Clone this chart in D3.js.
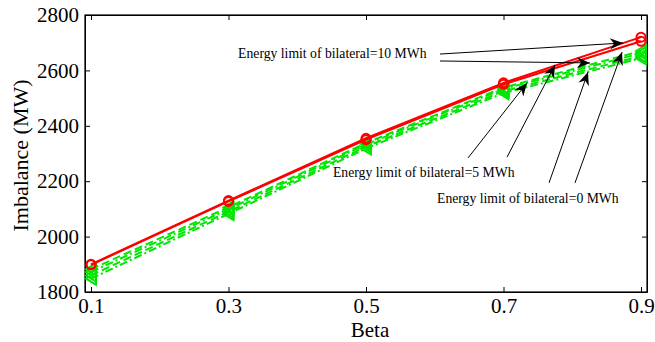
<!DOCTYPE html>
<html lang="en">
<head>
	<meta charset="utf-8">
	<title>Imbalance vs Beta</title>
	<script src="https://d3js.org/d3.v7.min.js"></script>
	<style type="text/css">
		body { margin: 0; background: #fff; }
		.axis path, .axis line { fill: none; stroke: black; stroke-width: 1; }
		.axis text { font-family: "Liberation Serif", serif; font-size: 21px; fill: black; }
		.label { font-family: "Liberation Serif", serif; font-size: 22px; fill: black; }
		.note { font-family: "Liberation Serif", serif; font-size: 13.7px; fill: black; }
	</style>
</head>
<body>
<script type="text/javascript">
// Data
var beta = [0.1, 0.3, 0.5, 0.7, 0.9];
var xTicks = [0.1, 0.3, 0.5, 0.7, 0.9];
var yTicks = [1800, 2000, 2200, 2400, 2600, 2800];

var red10a = [1900, 2130, 2355, 2555, 2720];
var red10b = [1898, 2127, 2350, 2550, 2705];
var green5a = [1882, 2106, 2338, 2538, 2670];
var green5b = [1872, 2099, 2333, 2533, 2662];
var green0a = [1860, 2090, 2325, 2525, 2652];
var green0b = [1848, 2082, 2318, 2518, 2644];

var series = [
	{values: red10a, color: "#ff0000", dash: null, marker: "circle"},
	{values: red10b, color: "#ff0000", dash: null, marker: "circle"},
	{values: green5a, color: "#00e600", dash: "8,4", marker: "tri"},
	{values: green5b, color: "#00e600", dash: "8,3,2,3", marker: "tri"},
	{values: green0a, color: "#00e600", dash: "8,4", marker: "tri"},
	{values: green0b, color: "#00e600", dash: "8,3,2,3", marker: "tri"}
];

// annotations in data units: label position and arrows [x0,y0,x1,y1]
var notes = [
	{text: "Energy limit of bilateral=10 MWh", at: [0.314, 2645],
	 arrows: [[0.6076, 2659, 0.8738, 2699], [0.6076, 2634, 0.8258, 2627]]},
	{text: "Energy limit of bilateral=5 MWh", at: [0.452, 2215],
	 arrows: [[0.6484, 2284, 0.7342, 2555], [0.7051, 2287, 0.7749, 2620]]},
	{text: "Energy limit of bilateral=0 MWh", at: [0.6033, 2121],
	 arrows: [[0.7662, 2194, 0.8229, 2594], [0.8040, 2194, 0.8724, 2666]]}
];

var margin = {top: 15, right: 8, bottom: 50, left: 85};
var outer_width = 655, outer_height = 342;
var w = outer_width - margin.left - margin.right;
var h = outer_height - margin.top - margin.bottom;

var svg = d3.select("body").append("svg")
	.attr("width", outer_width)
	.attr("height", outer_height);

var defs = svg.append("defs");
defs.append("marker")
	.attr("id", "head")
	.attr("markerUnits", "userSpaceOnUse")
	.attr("markerWidth", 16).attr("markerHeight", 16)
	.attr("viewBox", "-14 -8 16 16")
	.attr("refX", 0).attr("refY", 0)
	.attr("orient", "auto")
	.append("path")
	.attr("d", "M0,0 L-13,-5.5 L-9,0 L-13,5.5 Z")
	.attr("fill", "black");

var g = svg.append("g")
	.attr("transform", "translate(" + margin.left + "," + margin.top + ")");

var x = d3.scaleLinear().domain([0.0913, 0.9087]).range([0, w]);
var y = d3.scaleLinear().domain([1800, 2800]).range([h, 0]);

// axes with inward ticks on all four sides
g.append("g").attr("class", "axis")
	.attr("transform", "translate(0," + h + ")")
	.call(d3.axisBottom(x).tickValues(xTicks).tickSize(-5).tickSizeOuter(0).tickPadding(6).tickFormat(d3.format(".1f")));
g.append("g").attr("class", "axis")
	.call(d3.axisTop(x).tickValues(xTicks).tickSize(-5).tickSizeOuter(0).tickFormat(""));
g.append("g").attr("class", "axis")
	.call(d3.axisLeft(y).tickValues(yTicks).tickSize(-5).tickSizeOuter(0).tickPadding(6).tickFormat(d3.format("d")));
g.append("g").attr("class", "axis")
	.attr("transform", "translate(" + w + ",0)")
	.call(d3.axisRight(y).tickValues(yTicks).tickSize(-5).tickSizeOuter(0).tickFormat(""));

g.append("rect")
	.attr("width", w).attr("height", h)
	.attr("fill", "none").attr("stroke", "black").attr("stroke-width", 1.2);

var line = d3.line()
	.x(function(d, i) { return x(beta[i]); })
	.y(function(d) { return y(d); });

// draw green first so red stays on top
var order = [5, 4, 3, 2, 1, 0];
order.forEach(function(k) {
	var s = series[k];
	g.append("path")
		.datum(s.values)
		.attr("d", line)
		.attr("fill", "none")
		.attr("stroke", s.color)
		.attr("stroke-width", 2)
		.attr("stroke-dasharray", s.dash);

	var pts = g.append("g").selectAll("path.m")
		.data(s.values)
		.enter();
	if (s.marker == "circle") {
		pts.append("circle")
			.attr("cx", function(d, i) { return x(beta[i]); })
			.attr("cy", function(d) { return y(d); })
			.attr("r", 4.5)
			.attr("fill", "none")
			.attr("stroke", s.color)
			.attr("stroke-width", 2);
	} else {
		pts.append("path")
			.attr("transform", function(d, i) { return "translate(" + x(beta[i]) + "," + y(d) + ")"; })
			.attr("d", "M-5,0 L5,-6 L5,6 Z")
			.attr("fill", "none")
			.attr("stroke", s.color)
			.attr("stroke-width", 2);
	}
});

// annotations
notes.forEach(function(n) {
	g.append("text")
		.attr("class", "note")
		.attr("x", x(n.at[0]))
		.attr("y", y(n.at[1]))
		.text(n.text);
	n.arrows.forEach(function(a) {
		g.append("line")
			.attr("x1", x(a[0])).attr("y1", y(a[1]))
			.attr("x2", x(a[2])).attr("y2", y(a[3]))
			.attr("stroke", "black")
			.attr("stroke-width", 1)
			.attr("marker-end", "url(#head)");
	});
});

// axis labels
svg.append("text")
	.attr("class", "label")
	.attr("text-anchor", "middle")
	.attr("transform", "translate(28," + (margin.top + h / 2 + 2) + ") rotate(-90)")
	.text("Imbalance (MW)");
svg.append("text")
	.attr("class", "label")
	.attr("text-anchor", "middle")
	.style("font-size", "21px")
	.attr("x", margin.left + w / 2 + 4)
	.attr("y", 337)
	.text("Beta");
</script>
</body>
</html>
